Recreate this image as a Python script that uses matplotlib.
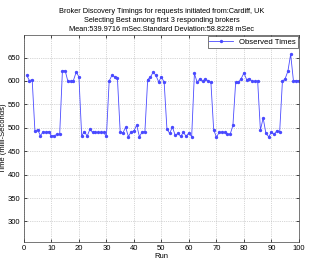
import numpy as np
import matplotlib.pyplot as plt

plt.rcParams['font.family'] = ['Liberation Sans', 'DejaVu Sans']

# Observed broker discovery times (milli-seconds), runs 1..100

runs = np.arange(1, 101)
times = [
    612, 601, 603,
    493, 496, 483, 492, 490, 492, 483, 483, 486, 486,
    622, 622, 599, 599, 601, 619, 609,
    483, 492, 482, 497, 490, 490, 490, 490, 490, 482,
    600, 612, 609, 606,
    492, 489, 501, 481, 492, 493, 506, 481, 491, 492,
    603, 608, 619, 612, 598, 609, 597,
    498, 488, 502, 484, 488, 482, 490, 482, 489, 481,
    616, 597, 605, 599, 605, 599, 597,
    496, 480, 490, 491, 490, 486, 486, 505,
    597, 597, 605, 617, 603, 605, 599, 599, 600,
    495, 521, 488, 481, 490, 486, 494, 491,
    599, 605, 621, 657, 601, 601, 601,
]

x_ticks = list(range(0, 101, 10))
y_ticks = list(range(300, 651, 50))

title_lines = [
    "Broker Discovery Timings for requests initiated from:Cardiff, UK",
    "Selecting Best among first 3 responding brokers",
    "Mean:539.9716 mSec.Standard Deviation:58.8228 mSec",
]

# Figure setup:

fig = plt.figure(figsize=(3.19, 2.62), dpi=100)
ax = fig.add_axes([0.075, 0.078, 0.862, 0.788])

ax.plot(
    runs, times,
    "-",
    marker=".",
    markersize=2.8,
    linewidth=0.6,
    color="#4a4aff",
    label="Observed Times"
)

ax.set_xlim(0, 100)
ax.set_ylim(257, 698)
ax.set_xticks(x_ticks)
ax.set_yticks(y_ticks)
ax.tick_params(direction="in", labelsize=5.5, length=2, width=0.5, pad=2.5,
               top=True, right=True)
ax.grid(True, linestyle=":", linewidth=0.5, color="#b0b0b0")

for spine in ax.spines.values():
    spine.set_linewidth(0.5)
    spine.set_color("#404040")

ax.set_xlabel("Run", fontsize=5.5, labelpad=1)
ax.set_ylabel("Time (milli-Seconds)", fontsize=5.5)
ax.yaxis.set_label_coords(-0.062, 0.5)
ax.set_title("\n".join(title_lines), fontsize=5.3, pad=3, linespacing=1.4)

legend = ax.legend(loc="upper right", fontsize=5.6, frameon=True,
                   fancybox=False, edgecolor="#404040", framealpha=1,
                   handlelength=3, borderpad=0.25, borderaxespad=0.15)
legend.get_frame().set_linewidth(0.5)

fig.savefig("out.png", dpi=100)
